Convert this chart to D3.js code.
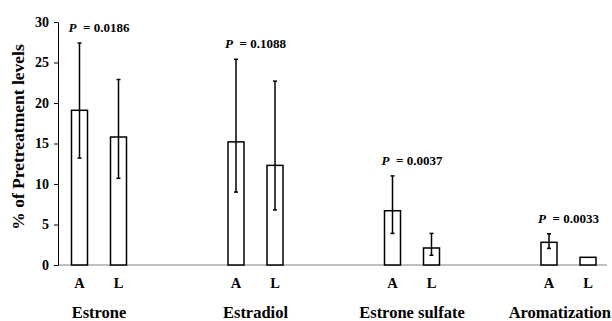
<!DOCTYPE html>
<html><head><meta charset="utf-8">
<script src="https://cdn.jsdelivr.net/npm/d3@7"></script>
<style>body{margin:0;background:#fff}svg{display:block}text{font-family:"Liberation Serif","Times New Roman",Times,serif;font-weight:bold;fill:#000}</style>
</head><body><svg id="c" width="612" height="321"></svg>
<script>
const categories = ["Estrone", "Estradiol", "Estrone sulfate", "Aromatization"];
const groups = ["A", "L"];
const meanA = [19.1, 15.2, 6.7, 2.8];
const meanL = [15.8, 12.3, 2.1, 0.95];
const errHighA = [27.4, 25.4, 11.0, 3.85];
const errLowA = [13.2, 9.0, 3.9, 2.05];
const errHighL = [22.9, 22.7, 3.9, null];
const errLowL = [10.7, 6.8, 1.2, null];
const pLabels = ["0.0186", "0.1088", "0.0037", "0.0033"];
const yTicks = [0, 5, 10, 15, 20, 25, 30];

const svg = d3.select("#c");
const W = 612, H = 321;
const y = d3.scaleLinear().domain([0, 30]).range([265, 22]);
const x = d3.scalePoint().domain(categories).range([99, 568.5]);
const xi = d3.scalePoint().domain(groups).range([-19.5, 19.5]);
const barW = 16;

const rows = [];
categories.forEach((c, i) => {
  rows.push({c, g: "A", v: meanA[i], hi: errHighA[i], lo: errLowA[i]});
  rows.push({c, g: "L", v: meanL[i], hi: errHighL[i], lo: errLowL[i]});
});

// x axis line
svg.append("line").attr("x1", 58).attr("x2", 607).attr("y1", y(0)).attr("y2", y(0))
  .attr("stroke", "#808080").attr("stroke-width", 1.2);

// y axis
const yAxis = d3.axisLeft(y).tickValues(yTicks).tickSize(4).tickSizeOuter(0).tickPadding(5);
const ga = svg.append("g").attr("transform", "translate(58,0)").call(yAxis);
ga.attr("font-size", null).attr("font-family", null);
ga.select(".domain").attr("stroke", "#000").attr("stroke-width", 1);
ga.selectAll(".tick line").attr("stroke", "#000");
ga.selectAll(".tick text").style("font-size", "14px").attr("fill", "#000");

// bars
svg.selectAll("rect.bar").data(rows).join("rect").attr("class", "bar")
  .attr("x", d => x(d.c) + xi(d.g) - barW / 2)
  .attr("y", d => y(d.v))
  .attr("width", barW)
  .attr("height", d => y(0) - y(d.v))
  .attr("fill", "#fff").attr("stroke", "#000").attr("stroke-width", 1.5);

// error bars
const eb = rows.filter(d => d.hi != null);
const cap = 2;
eb.forEach(d => {
  const cx = x(d.c) + xi(d.g);
  svg.append("line").attr("x1", cx).attr("x2", cx).attr("y1", y(d.hi)).attr("y2", y(d.lo)).attr("stroke", "#000").attr("stroke-width", 1.5);
  svg.append("line").attr("x1", cx - cap).attr("x2", cx + cap).attr("y1", y(d.hi)).attr("y2", y(d.hi)).attr("stroke", "#000").attr("stroke-width", 1.5);
  svg.append("line").attr("x1", cx - cap).attr("x2", cx + cap).attr("y1", y(d.lo)).attr("y2", y(d.lo)).attr("stroke", "#000").attr("stroke-width", 1.5);
});

// P labels
categories.forEach((c, i) => {
  const t = svg.append("text").attr("x", x(c)).attr("y", y(errHighA[i]) - 11)
    .attr("text-anchor", "middle").attr("font-size", 13);
  t.append("tspan").attr("font-style", "italic").text("P");
  t.append("tspan").attr("xml:space", "preserve").text("\u2002= " + pLabels[i]);
});

// group tick labels A/L
rows.forEach(d => {
  svg.append("text").attr("x", x(d.c) + xi(d.g)).attr("y", 288)
    .attr("text-anchor", "middle").attr("font-size", 14.5).text(d.g);
});

// category labels
categories.forEach(c => {
  const t = svg.append("text").attr("y", 318).attr("text-anchor", "middle").attr("font-size", 16.5).text(c);
  t.attr("x", x(c));
  const w = t.node().getComputedTextLength();
  if (x(c) + w / 2 > W - 1) t.attr("x", W - 1 - w / 2);
});

// y axis title
svg.append("text").attr("transform", "translate(24,137) rotate(-90)")
  .attr("text-anchor", "middle").attr("font-size", 17.5).text("% of Pretreatment levels");
</script></body></html>
